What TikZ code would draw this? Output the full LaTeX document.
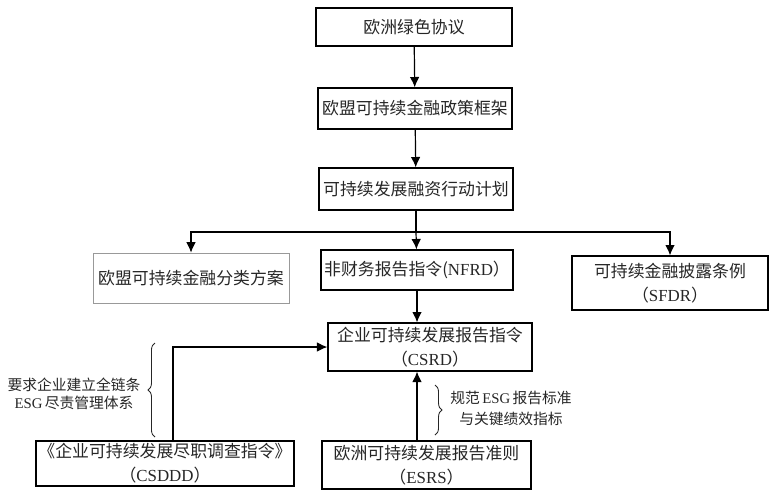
\documentclass[tikz,border=0pt]{standalone}
\usepackage{fontspec}
\setmainfont{Noto Sans CJK SC}
\newfontfamily\latfont{Liberation Serif}
\newcommand{\lat}[1]{{\latfont #1}}
\usepackage{tikz}
\colorlet{colorBox}{black}
\colorlet{colorTxt}{black!85}
\colorlet{colorTax}{gray!80}
\usetikzlibrary{arrows.meta}
\usetikzlibrary{calc}
\usetikzlibrary{decorations.pathreplacing}
\tikzset{
   every path/.style={>={Latex[length=2.6mm,width=2.4mm]}},
   box/.style={draw=colorBox,line width=0.85pt,text=colorTxt,inner sep=0pt,align=center,font=\fontsize{12}{17}\selectfont},
   taxbox/.style={box,draw=colorTax,line width=0.5pt},
   flow/.style={->,line width=0.85pt},
   brc/.style={decorate,decoration={brace,amplitude=5pt},line width=0.6pt,color=colorTxt},
   note/.style={align=center,text=colorTxt,font=\fontsize{10.5}{#1}\selectfont},
}

\begin{document}
\begin{tikzpicture}[x=0.025cm,y=-0.025cm]
        \useasboundingbox (0,0) rectangle (774,495);

        \node[box,minimum width=4.9cm,minimum height=0.95cm]   (egd)  at (414, 27)   {欧洲绿色协议};
        \node[box,minimum width=4.85cm,minimum height=1.025cm] (fw)   at (415,108.5) {欧盟可持续金融政策框架};
        \node[box,minimum width=4.85cm,minimum height=1.05cm]  (ap)   at (416,189)   {可持续发展融资行动计划};

        \node[taxbox,minimum width=4.9cm,minimum height=1.25cm] (tax) at (191,278) {欧盟可持续金融分类方案};
        \node[box,minimum width=4.8cm,minimum height=1.0cm]   (nfrd) at (417,270) {非财务报告指令(\lat{NFRD}）};
        \node[box,minimum width=4.9cm,minimum height=1.35cm]  (sfdr) at (670,283) {可持续金融披露条例\\（\lat{SFDR}）};

        \node[box,minimum width=5.1cm,minimum height=1.2cm]   (csrd)  at (430,347)   {企业可持续发展报告指令\\（\lat{CSRD}）};
        \node[box,minimum width=6.45cm,minimum height=1.125cm] (csddd) at (165,463.5) {《企业可持续发展尽职调查指令》\\（\lat{CSDDD}）};
        \node[box,minimum width=5.225cm,minimum height=1.2cm] (esrs)  at (426.5,465) {欧洲可持续发展报告准则\\（\lat{ESRS}）};

        \draw[flow] (egd) -- (fw);
        \draw[flow] (fw) -- (ap);

        \coordinate (split) at (416,232);
        \draw[line width=0.85pt] (ap) -- (split);
        \draw[flow] (split) -| (tax.north);
        \draw[flow] (split) -- (nfrd);
        \draw[flow] (split) -| (sfdr.north);

        \draw[flow] (nfrd) -- (nfrd |- csrd.north);
        \draw[flow] ($(csddd.north)+(8,0)$) |- (csrd.west);
        \draw[flow] (esrs.north -| nfrd) -- (nfrd |- csrd.south);

        % braces and their notes
        \draw[brc] (155,437) -- (155,343);
        \node[note=12.8] (lnote) at (74,394) {要求企业建立全链条\\\lat{ESG}\,尽责管理体系};
        \draw[brc] (435,385) -- (435,435);
        \node[note=15] (rnote) at (511,408) {规范\,\lat{ESG}\,报告标准\\与关键绩效指标};

\end{tikzpicture}
\end{document}
